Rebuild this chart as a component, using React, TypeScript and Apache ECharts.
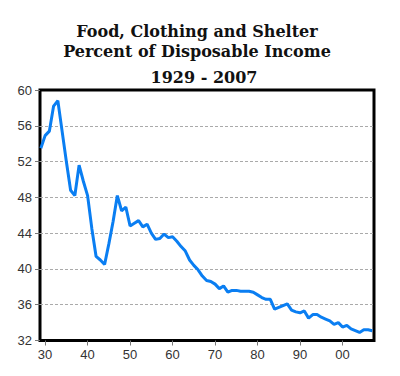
import React, { useEffect, useRef } from "react";
import * as echarts from "echarts";

const titleLines = ["Food, Clothing and Shelter", "Percent of Disposable Income", "1929 - 2007"];
const startYear = 1929;
const shareValues = [
  53.5, 54.9, 55.4, 58.2, 58.8, 55.4, 52.0, 48.8, 48.2, 51.6,
  49.8, 48.2, 44.5, 41.4, 41.0, 40.5, 42.8, 45.3, 48.2, 46.5,
  46.9, 44.8, 45.1, 45.4, 44.7, 45.0, 44.0, 43.3, 43.4, 43.9,
  43.5, 43.6, 43.1, 42.5, 42.0, 41.0, 40.4, 39.9, 39.2, 38.7,
  38.6, 38.3, 37.8, 38.1, 37.4, 37.6, 37.6, 37.5, 37.5, 37.5,
  37.4, 37.1, 36.8, 36.6, 36.6, 35.5, 35.7, 35.9, 36.1, 35.4,
  35.2, 35.1, 35.3, 34.5, 34.9, 34.9, 34.6, 34.4, 34.2, 33.8,
  34.0, 33.5, 33.7, 33.3, 33.1, 32.9, 33.2, 33.2, 33.1,
];
const years = shareValues.map((_, i) => startYear + i);
const xTickValues = [1930, 1940, 1950, 1960, 1970, 1980, 1990, 2000];
const yMin = 32;
const yMax = 60;
const yStep = 4;

export default function App() {
  const ref = useRef<HTMLDivElement>(null);
  useEffect(() => {
    if (!ref.current) return;
    const chart = echarts.init(ref.current, null, { renderer: "svg" });
    const serif = "'DejaVu Serif', Georgia, serif";
    chart.setOption({
      animation: false,
      backgroundColor: "#fff",
      graphic: [
        {
          type: "text",
          x: 197,
          y: 31,
          style: { text: titleLines[0], font: `bold 16px ${serif}`, fill: "#111", align: "center", verticalAlign: "middle" },
        },
        {
          type: "text",
          x: 197,
          y: 51,
          style: { text: titleLines[1], font: `bold 16px ${serif}`, fill: "#111", align: "center", verticalAlign: "middle" },
        },
        {
          type: "text",
          x: 204,
          y: 77,
          style: { text: titleLines[2], font: `bold 16px ${serif}`, fill: "#111", align: "center", verticalAlign: "middle" },
        },
      ],
      grid: {
        left: 40,
        right: 26,
        top: 90,
        bottom: 35.5,
        show: true,
        borderColor: "#000",
        borderWidth: 3,
        containLabel: false,
      },
      xAxis: {
        type: "value",
        min: 1928.8,
        max: 2007.4,
        axisLine: { show: false },
        axisTick: { show: true, customValues: xTickValues, length: 5, lineStyle: { color: "#777" } },
        axisLabel: {
          customValues: xTickValues,
          formatter: (v: number) => String(v).slice(2),
          color: "#333",
          fontFamily: "'Liberation Sans', Arial, sans-serif",
          fontSize: 13,
          margin: 7,
        },
        splitLine: { show: false },
      },
      yAxis: {
        type: "value",
        min: yMin,
        max: yMax,
        interval: yStep,
        axisLine: { show: false },
        axisTick: { show: true, length: 5, lineStyle: { color: "#777" } },
        axisLabel: {
          color: "#333",
          fontFamily: "'Liberation Sans', Arial, sans-serif",
          fontSize: 13,
          margin: 8,
        },
        splitLine: {
          show: true,
          showMinLine: false,
          showMaxLine: false,
          lineStyle: { color: "#aaa", type: [3, 2], width: 1 },
        },
      },
      series: [
        {
          type: "line",
          data: years.map((y, i) => [y, shareValues[i]]),
          showSymbol: false,
          symbol: "none",
          lineStyle: { color: "#0a7ef2", width: 3 },
          z: 3,
        },
      ],
    });
    return () => chart.dispose();
  }, []);
  return <div ref={ref} style={{ position: "absolute", left: 0, top: 0, width: 400, height: 376 }} />;
}
